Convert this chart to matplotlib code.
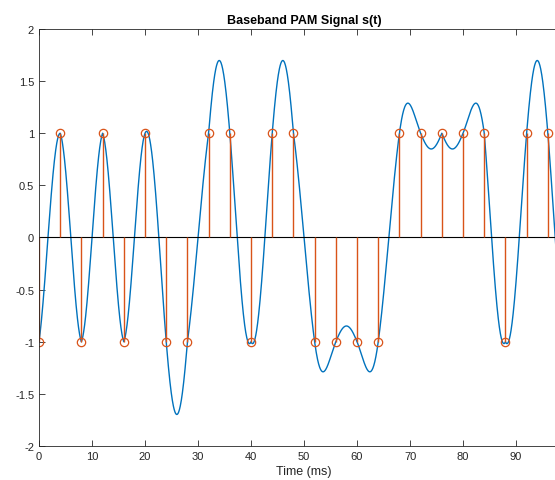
import matplotlib
matplotlib.use("Agg")
import matplotlib.pyplot as plt
import numpy as np

# Symboles PAM (un symbole toutes les 4 ms)
symbol_period = 4
symbol_times = [0, 4, 8, 12, 16, 20, 24, 28, 32, 36, 40, 44, 48,
                52, 56, 60, 64, 68, 72, 76, 80, 84, 88, 92, 96, 100, 104]
symbols = [-1, 1, -1, 1, -1, 1, -1, -1, 1, 1, -1, 1, 1,
           -1, -1, -1, -1, 1, 1, 1, 1, 1, -1, 1, 1, -1, 1]
pulse_span = 2  # impulsion sinc tronquée à +/- 2 périodes symbole

# Signal en bande de base : somme d'impulsions sinc tronquées
t = np.linspace(0, 100, 2001)
s = np.zeros_like(t)
for tk, ak in zip(symbol_times, symbols):
    x = (t - tk) / symbol_period
    s += ak * np.where(np.abs(x) <= pulse_span, np.sinc(x), 0.0)

plt.rcParams['font.family'] = ['Liberation Sans', 'DejaVu Sans']
fig = plt.figure(figsize=(5.55, 4.81), dpi=100)
ax = fig.add_axes([0.0703, 0.0707, 0.955, 0.867])

ax.plot(t, s, color="#0072BD", linewidth=1.0)
ax.axhline(0, color="black", linewidth=0.8)
ax.vlines(symbol_times, 0, symbols, color="#D95319", linewidth=1.0)
ax.plot(symbol_times, symbols, linestyle="none", marker="o", markersize=6,
        markerfacecolor="none", markeredgecolor="#D95319", markeredgewidth=0.9)

ax.set_xlim(0, 100)
ax.set_ylim(-2, 2)
ax.set_xticks(np.arange(0, 91, 10))
ax.set_yticks([-2, -1.5, -1, -0.5, 0, 0.5, 1, 1.5, 2])
ax.set_yticklabels(["-2", "-1.5", "-1", "-0.5", "0", "0.5", "1", "1.5", "2"])
ax.tick_params(direction="in", top=True, right=True, length=4, width=0.6,
               labelsize=8, colors="#262626")
for sp in ax.spines.values():
    sp.set_color("#262626")
    sp.set_linewidth(0.6)

ax.set_xlabel("Time (ms)", fontsize=9, color="#262626", labelpad=3)
ax.set_title("Baseband PAM Signal s(t)", fontsize=9, fontweight="bold", pad=4)

fig.savefig("out.png", dpi=100)
